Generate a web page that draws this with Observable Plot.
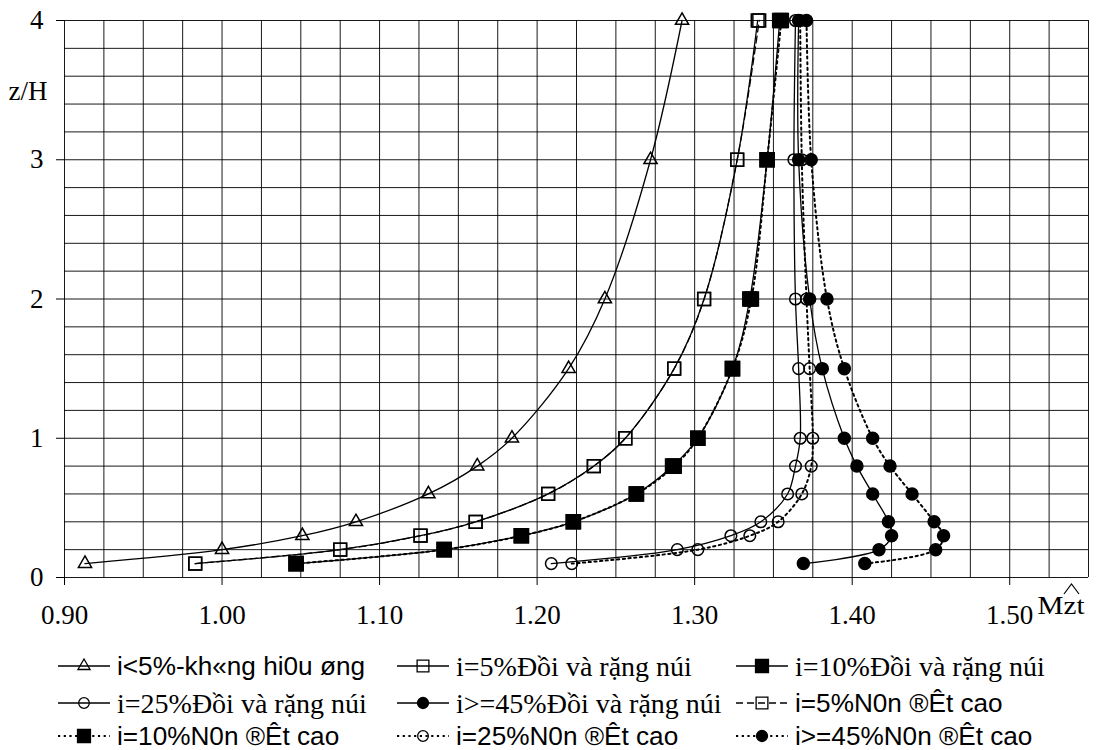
<!DOCTYPE html>
<html>
<head>
<meta charset="utf-8">
<script src="https://cdn.jsdelivr.net/npm/d3@7"></script>
<script src="https://cdn.jsdelivr.net/npm/@observablehq/plot@0.6"></script>
<style>
  html, body { margin: 0; padding: 0; background: #fff; }
  #wrap { width: 1115px; }
  svg { display: block; }
</style>
</head>
<body>
<div id="wrap"></div>
<script>
// ---- data (z/H levels and Mzt values per series) ----
const zLevels = [0.1, 0.2, 0.3, 0.4, 0.6, 0.8, 1.0, 1.5, 2.0, 3.0, 4.0];

const iLt5      = [0.913, 1.000, 1.051, 1.085, 1.131, 1.162, 1.184, 1.220, 1.243, 1.272, 1.292];
const i5Doi     = [0.983, 1.075, 1.126, 1.161, 1.207, 1.236, 1.256, 1.287, 1.306, 1.327, 1.340];
const i10Doi    = [1.047, 1.141, 1.190, 1.223, 1.263, 1.286, 1.302, 1.324, 1.335, 1.346, 1.354];
const i25Doi    = [1.209, 1.289, 1.323, 1.342, 1.359, 1.364, 1.367, 1.366, 1.364, 1.363, 1.364];
const i45Doi    = [1.369, 1.417, 1.425, 1.423, 1.413, 1.403, 1.395, 1.381, 1.373, 1.366, 1.366];
const i5Nen     = [0.983, 1.075, 1.126, 1.161, 1.207, 1.236, 1.256, 1.287, 1.306, 1.327, 1.341];
const i10Nen    = [1.047, 1.141, 1.190, 1.223, 1.263, 1.287, 1.302, 1.324, 1.336, 1.346, 1.355];
const i25Nen    = [1.222, 1.302, 1.335, 1.353, 1.368, 1.374, 1.375, 1.373, 1.371, 1.368, 1.367];
const i45Nen    = [1.408, 1.453, 1.458, 1.452, 1.438, 1.424, 1.413, 1.395, 1.384, 1.374, 1.371];

const seriesLabels = [
  "i<5%-kh«ng hi0u øng",
  "i=5%Đồi và rặng núi",
  "i=10%Đồi và rặng núi",
  "i=25%Đồi và rặng núi",
  "i>=45%Đồi và rặng núi",
  "i=5%N0n ®Êt cao",
  "i=10%N0n ®Êt cao",
  "i=25%N0n ®Êt cao",
  "i>=45%N0n ®Êt cao"
];
const seriesValues = [iLt5, i5Doi, i10Doi, i25Doi, i45Doi, i5Nen, i10Nen, i25Nen, i45Nen];

const xTicks = [0.90, 1.00, 1.10, 1.20, 1.30, 1.40, 1.50];
const yTicks = [0, 1, 2, 3, 4];
const xLabel = "Mzt";
const yLabel = "z/H";

// ---- styles per series ----
const styles = [
  {symbol: "triangle", r: 4.9, fill: "none",  dash: null,      font: "sans"},
  {symbol: "square",   r: 3.9, fill: "none",  dash: null,      font: "serif"},
  {symbol: "square",   r: 4.3, fill: "black", dash: null,      font: "serif"},
  {symbol: "circle",   r: 5.8, fill: "none",  dash: null,      font: "serif"},
  {symbol: "circle",   r: 6.0, fill: "black", dash: null,      font: "serif"},
  {symbol: "square",   r: 3.9, fill: "none",  dash: "7,4",     font: "sans"},
  {symbol: "square",   r: 4.3, fill: "black", dash: "2.2,3.5", font: "sans"},
  {symbol: "circle",   r: 5.8, fill: "none",  dash: "2.2,3.5", font: "sans"},
  {symbol: "circle",   r: 6.0, fill: "black", dash: "2.2,3.5", font: "sans"}
];
// Plot symbol sizes use area = PI r^2; squares side = sqrt(PI)*r
styles.forEach(s => { if (s.symbol === "square") s.r = s.r * 1.85; });

const rows = [];
seriesValues.forEach((vals, si) => {
  vals.forEach((m, k) => rows.push({series: si, z: zLevels[k], m}));
});

const gridXVals = d3.range(0, 27).map(i => +(0.9 + i * 0.025).toFixed(3));
const gridYVals = d3.range(0, 21).map(i => +(i * 0.2).toFixed(2));

const marks = [
  Plot.gridX(gridXVals, {stroke: "black", strokeOpacity: 0.9, strokeWidth: 1}),
  Plot.gridY(gridYVals, {stroke: "black", strokeOpacity: 0.9, strokeWidth: 1})
];
seriesValues.forEach((vals, si) => {
  const st = styles[si];
  const d = rows.filter(r => r.series === si);
  marks.push(Plot.line(d, {
    x: "m", y: "z", curve: "catmull-rom",
    stroke: "black",
    strokeWidth: st.dash && st.dash.startsWith("2") ? 2 : 1.3,
    strokeDasharray: st.dash || undefined
  }));
});
seriesValues.forEach((vals, si) => {
  const st = styles[si];
  const d = rows.filter(r => r.series === si);
  marks.push(Plot.dot(d, {
    x: "m", y: "z", symbol: () => st.symbol, r: st.r,
    fill: st.fill, stroke: "black", strokeWidth: 1.5
  }));
});
marks.push(
  Plot.axisX({ticks: xTicks, tickSize: 8, tickPadding: 19, tickFormat: d3.format(".2f"),
              label: null, fontSize: 27, stroke: "black", strokeWidth: 1}),
  Plot.axisY({ticks: yTicks, tickSize: 8, tickPadding: 13, tickFormat: d3.format("d"),
              label: null, fontSize: 27, stroke: "black", strokeWidth: 1})
);

const chart = Plot.plot({
  width: 1115,
  height: 640,
  marginLeft: 64,
  marginRight: 27,
  marginTop: 20,
  marginBottom: 63,
  x: {domain: [0.9, 1.55]},
  y: {domain: [0, 4]},
  style: {fontFamily: "'Liberation Serif', 'Times New Roman', serif", fontSize: "27px", color: "black", background: "white"},
  marks
});
document.getElementById("wrap").appendChild(chart);

// axis titles
const svg = d3.select(chart);
svg.append("text").attr("x", 28).attr("y", 100).attr("text-anchor", "middle")
  .attr("font-family", "'Liberation Serif', serif").attr("font-size", 27).attr("fill", "black")
  .text(yLabel);
svg.append("text").attr("x", 1061).attr("y", 614)
  .attr("font-family", "'Liberation Serif', serif").attr("font-size", 25).attr("fill", "black")
  .attr("textLength", 47).attr("lengthAdjust", "spacingAndGlyphs")
  .text(xLabel);
svg.append("path").attr("d", "M1064,594 L1071.5,584 L1079,594").attr("fill", "none")
  .attr("stroke", "black").attr("stroke-width", 1.2);

// ---- legend (below the chart) ----
const lg = d3.select("#wrap").append("svg").attr("width", 1115).attr("height", 110);
const colX = [58, 397, 736];
const rowY = [26, 63, 96];
const serifFont = "'Liberation Serif', 'Times New Roman', serif";
const sansFont = "'Liberation Sans', Arial, sans-serif";
const sansTexts = [];
seriesLabels.forEach((lab, si) => {
  const st = styles[si];
  const cx = colX[si % 3], cy = rowY[Math.floor(si / 3)];
  lg.append("line").attr("x1", cx).attr("x2", cx + 52).attr("y1", cy).attr("y2", cy)
    .attr("stroke", "black")
    .attr("stroke-width", st.dash && st.dash.startsWith("2") ? 2 : 1.3)
    .attr("stroke-dasharray", st.dash);
  const sym = {triangle: d3.symbolTriangle, square: d3.symbolSquare, circle: d3.symbolCircle}[st.symbol];
  const rr = st.r * 0.92;
  lg.append("path").attr("transform", `translate(${cx + 26},${cy})`)
    .attr("d", d3.symbol(sym, Math.PI * rr * rr)())
    .attr("fill", st.fill).attr("stroke", "black").attr("stroke-width", 1.3);
  const t = lg.append("text").attr("x", cx + 59).attr("y", cy).attr("dy", "0.35em")
    .attr("fill", "black")
    .attr("font-family", st.font === "serif" ? serifFont : sansFont)
    .attr("font-size", st.font === "serif" ? 28 : 26)
    .text(lab);
  if (st.font === "sans") sansTexts.push(t);
});
// condensed look of the sans legend labels: scale to reference width of the first label
const baseW = sansTexts[0].node().getComputedTextLength();
const k = baseW > 0 ? 248 / baseW : 1;
sansTexts.forEach(t => {
  const w = t.node().getComputedTextLength();
  if (w > 0) t.attr("textLength", (w * k).toFixed(1)).attr("lengthAdjust", "spacingAndGlyphs");
});
</script>
</body>
</html>
